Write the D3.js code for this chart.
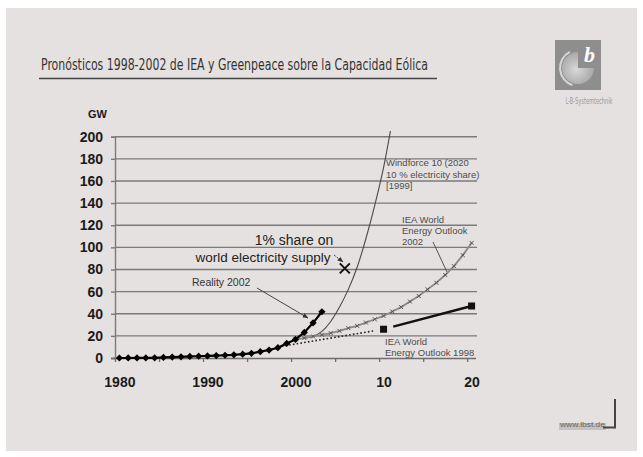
<!DOCTYPE html>
<html>
<head>
<meta charset="utf-8">
<script src="https://cdn.jsdelivr.net/npm/d3@7"></script>
<style>
body { margin: 0; background: #fff; }
svg { display: block; }
</style>
</head>
<body>
<svg id="svg1" width="643" height="457"></svg>
<script>
var titre = "Pronósticos 1998-2002 de IEA y Greenpeace sobre la Capacidad Eólica";

var yTicks = [0, 20, 40, 60, 80, 100, 120, 140, 160, 180, 200];
var xLabelYears = [1980, 1990, 2000, 2010, 2020];
var xLabels = ["1980", "1990", "2000", "10", "20"];
var xTickYears = [1980, 1985, 1990, 1995, 2000, 2005, 2010, 2015, 2020];

// capacité réelle (GW)
var realityYears = [1980, 1981, 1982, 1983, 1984, 1985, 1986, 1987, 1988, 1989, 1990, 1991,
                    1992, 1993, 1994, 1995, 1996, 1997, 1998, 1999, 2000, 2001, 2002, 2003];
var realityGW = [0.01, 0.02, 0.05, 0.1, 0.2, 0.5, 0.8, 1.1, 1.4, 1.6, 1.9, 2.2,
                 2.5, 2.9, 3.5, 4.2, 5.7, 7.2, 9.3, 13.2, 16.8, 23.1, 31.8, 41.8];

// Windforce 10 [1999]
var windforceYears = [1999, 2000, 2001, 2002, 2003, 2004, 2005, 2006, 2007, 2008, 2009, 2010, 2011];
var windforceGW = [13, 16.5, 18, 19.5, 24, 33, 46, 62, 82, 108, 138, 172, 215];

// IEA World Energy Outlook 2002
var weo2002Years = [2000, 2001, 2002, 2003, 2004, 2005, 2006, 2007, 2008, 2009, 2010,
                    2011, 2012, 2013, 2014, 2015, 2016, 2017, 2018, 2019, 2020];
var weo2002GW = [17, 18, 19.5, 21, 22.5, 24.5, 27, 29, 32, 35, 38,
                 42, 46, 51, 56, 62, 68, 75, 83, 93, 104];

// IEA World Energy Outlook 1998
var weo1998Years = [1998, 2010, 2020];
var weo1998GW = [10, 26, 47];

// 1% de l'électricité mondiale
var shareYear = 2005.6;
var shareGW = 81;

var svg = d3.select("#svg1");

// fond
svg.append("rect").attr("width", 643).attr("height", 457).style("fill", "#ffffff");
svg.append("rect").attr("x", 6).attr("y", 8).attr("width", 631).attr("height", 443)
    .style("fill", "#e5e1e0");

// titre
svg.append("text").attr("x", 41).attr("y", 70)
    .attr("textLength", 387).attr("lengthAdjust", "spacingAndGlyphs")
    .style("font-family", "DejaVu Sans Condensed, Liberation Sans, sans-serif")
    .style("font-size", "16.5px").style("fill", "#333")
    .text(titre);
svg.append("line").attr("x1", 39).attr("x2", 437).attr("y1", 78.5).attr("y2", 78.5)
    .style("stroke", "#444").style("stroke-width", 1.5);

// logo
var logo = svg.append("g");
var defs = svg.append("defs");
var grad = defs.append("radialGradient").attr("id", "globe").attr("cx", "45%").attr("cy", "55%").attr("r", "60%");
grad.append("stop").attr("offset", "0%").style("stop-color", "#d9d9d9");
grad.append("stop").attr("offset", "100%").style("stop-color", "#a2a2a2");
logo.append("rect").attr("x", 555).attr("y", 40).attr("width", 46).attr("height", 50)
    .style("fill", "#8e8e8e");
logo.append("path")
    .attr("transform", "translate(578,68)")
    .attr("d", d3.arc()({innerRadius: 0, outerRadius: 16, startAngle: Math.PI * 0.5, endAngle: Math.PI * 2}))
    .style("fill", "url(#globe)");
logo.append("path")
    .attr("transform", "translate(578,68)")
    .attr("d", d3.arc()({innerRadius: 17, outerRadius: 19, startAngle: -Math.PI * 0.9, endAngle: -Math.PI * 0.15}))
    .style("fill", "#d8d8d8");
logo.append("text").attr("x", 584).attr("y", 62)
    .style("font-family", "Liberation Serif, serif").style("font-style", "italic").style("font-weight", "bold")
    .style("font-size", "22px").style("fill", "#fff").text("b");
svg.append("text").attr("x", 589).attr("y", 104).attr("text-anchor", "middle")
    .attr("textLength", 47).attr("lengthAdjust", "spacingAndGlyphs")
    .style("font-family", "DejaVu Sans Condensed, sans-serif").style("font-size", "8px").style("fill", "#999")
    .text("L-B-Systemtechnik");

// pied de page
svg.append("rect").attr("x", 559).attr("y", 423).attr("width", 47).attr("height", 7).style("fill", "#c4c2c1");
svg.append("text").attr("x", 560).attr("y", 427)
    .attr("textLength", 45).attr("lengthAdjust", "spacingAndGlyphs")
    .style("font-family", "Liberation Sans, sans-serif").style("font-size", "8px").style("fill", "#666")
    .text("www.lbst.de");
svg.append("path").attr("d", "M615,399 V427.5 H603")
    .style("fill", "none").style("stroke", "#444").style("stroke-width", 2);

// échelles
var x = d3.scaleLinear().domain([1979.5, 2020.5]).range([115, 476]);
var y = d3.scaleLinear().domain([0, 200]).range([358, 136.7]);

// grille
svg.append("g").selectAll("line")
    .data(yTicks.filter(function(d){ return d > 0; }))
    .enter().append("line")
    .attr("x1", 115).attr("x2", 477)
    .attr("y1", function(d){ return y(d); }).attr("y2", function(d){ return y(d); })
    .style("stroke", "#7a7a7a").style("stroke-width", 1.4);

// axe Y
var axeY = svg.append("g").attr("transform", "translate(115,0)")
    .call(d3.axisLeft(y).tickValues(yTicks).tickSize(4).tickPadding(8));
axeY.select(".domain").style("stroke", "#7a7a7a").style("stroke-width", 1.4);
axeY.selectAll(".tick line").style("stroke", "#7a7a7a").style("stroke-width", 1.4);
axeY.selectAll("text").style("font-family", "Liberation Sans, Arial, sans-serif")
    .style("font-size", "14px").style("font-weight", "bold").style("fill", "#1a1a1a");

svg.append("text").attr("x", 88).attr("y", 118)
    .style("font-family", "Liberation Sans, Arial, sans-serif").style("font-size", "11px")
    .style("font-weight", "bold").style("fill", "#1a1a1a").text("GW");

// axe X
var axeX = svg.append("g").attr("transform", "translate(0,358)")
    .call(d3.axisBottom(x).tickValues(xTickYears.map(function(d){ return d - 0.5; }))
        .tickSize(4).tickSizeOuter(0).tickFormat(""));
axeX.select(".domain").attr("d", "M111,0.5H476").style("stroke", "#6d6d6d").style("stroke-width", 1.5);
axeX.selectAll(".tick line").style("stroke", "#6d6d6d").style("stroke-width", 1.3);

var axeXLabels = svg.append("g").attr("transform", "translate(0,358)")
    .call(d3.axisBottom(x).tickValues(xLabelYears).tickSize(0).tickPadding(19)
        .tickFormat(function(d, i){ return xLabels[i]; }));
axeXLabels.select(".domain").remove();
axeXLabels.selectAll("text").style("font-family", "Liberation Sans, Arial, sans-serif")
    .style("font-size", "14px").style("font-weight", "bold").style("fill", "#1a1a1a");

// Windforce 10
svg.append("clipPath").attr("id", "clip").append("rect")
    .attr("x", 110).attr("y", 131).attr("width", 370).attr("height", 230);
var ligne = d3.line().curve(d3.curveMonotoneX)
    .x(function(d){ return x(d[0]); }).y(function(d){ return y(d[1]); });
svg.append("path")
    .datum(windforceYears.map(function(d, i){ return [d, windforceGW[i]]; }))
    .attr("clip-path", "url(#clip)")
    .attr("d", ligne)
    .style("fill", "none").style("stroke", "#4a4a4a").style("stroke-width", 1.1);

// WEO 2002
var weo2002 = weo2002Years.map(function(d, i){ return [d, weo2002GW[i]]; });
svg.append("path").datum(weo2002)
    .attr("d", d3.line().x(function(d){ return x(d[0]); }).y(function(d){ return y(d[1]); }))
    .style("fill", "none").style("stroke", "#8a8a8a").style("stroke-width", 1.8);
svg.append("g").selectAll("path").data(weo2002).enter().append("path")
    .attr("transform", function(d){ return "translate(" + x(d[0]) + "," + y(d[1]) + ")"; })
    .attr("d", "M-2,-2L2,2M-2,2L2,-2")
    .style("stroke", "#555").style("stroke-width", 1);

// WEO 1998
var p0 = [x(weo1998Years[0]), y(weo1998GW[0])];
var p1 = [x(weo1998Years[1]), y(weo1998GW[1])];
var p2 = [x(weo1998Years[2]), y(weo1998GW[2])];
var d01 = Math.hypot(p1[0] - p0[0], p1[1] - p0[1]);
svg.append("line").attr("x1", p0[0]).attr("y1", p0[1]).attr("x2", p1[0]).attr("y2", p1[1])
    .style("stroke", "#222").style("stroke-width", 1.6)
    .style("stroke-dasharray", d3.range(Math.floor((d01 - 6) / 3.8)).map(function(){ return "1.6 2.2"; }).join(" ") + " 0 100");
svg.append("line").attr("x1", p1[0]).attr("y1", p1[1]).attr("x2", p2[0]).attr("y2", p2[1])
    .style("stroke", "#111").style("stroke-width", 2.4)
    .style("stroke-dasharray", "0 10 1000");
svg.append("g").selectAll("rect").data(weo1998Years.slice(1)).enter().append("rect")
    .attr("x", function(d){ return x(d) - 3.5; })
    .attr("y", function(d, i){ return y(weo1998GW[i + 1]) - 3.5; })
    .attr("width", 7).attr("height", 7).style("fill", "#111");

// réalité
var reality = realityYears.map(function(d, i){ return [d, realityGW[i]]; });
svg.append("path").datum(reality)
    .attr("d", d3.line().x(function(d){ return x(d[0]); }).y(function(d){ return y(d[1]); }))
    .style("fill", "none").style("stroke", "#000").style("stroke-width", 2.2);
svg.append("g").selectAll("path").data(reality).enter().append("path")
    .attr("transform", function(d){ return "translate(" + x(d[0]) + "," + y(d[1]) + ") rotate(45)"; })
    .attr("d", d3.symbol().type(d3.symbolSquare).size(26))
    .style("fill", "#000");

// marque 1 %
svg.append("path")
    .attr("transform", "translate(" + x(shareYear) + "," + y(shareGW) + ")")
    .attr("d", "M-5,-5L5,5M-5,5L5,-5")
    .style("stroke", "#111").style("stroke-width", 2);

// annotations
defs.append("marker").attr("id", "fleche").attr("viewBox", "0 0 10 10")
    .attr("refX", 9).attr("refY", 5).attr("markerWidth", 6).attr("markerHeight", 6)
    .attr("orient", "auto")
    .append("path").attr("d", "M0,1L10,5L0,9Z").style("fill", "#333");

var police = "Liberation Sans, Arial, sans-serif";
svg.append("text").attr("x", 294).attr("y", 245).attr("text-anchor", "middle")
    .style("font-family", police).style("font-size", "14px").style("fill", "#222").text("1% share on");
svg.append("text").attr("x", 263).attr("y", 262).attr("text-anchor", "middle")
    .style("font-family", police).style("font-size", "13.5px").style("fill", "#222").text("world electricity supply");
svg.append("line").attr("x1", 334).attr("y1", 255).attr("x2", 343).attr("y2", 262)
    .attr("marker-end", "url(#fleche)")
    .style("stroke", "#333").style("stroke-width", 1).style("stroke-dasharray", "2 1.5");

svg.append("text").attr("x", 192).attr("y", 286)
    .style("font-family", police).style("font-size", "10.5px").style("fill", "#333").text("Reality 2002");
svg.append("line").attr("x1", 257).attr("y1", 288).attr("x2", 308).attr("y2", 318)
    .attr("marker-end", "url(#fleche)")
    .style("stroke", "#444").style("stroke-width", 1);

var texteGris = function(lignes, x0, y0, pas) {
    svg.append("g").selectAll("text").data(lignes).enter().append("text")
        .attr("x", x0).attr("y", function(d, i){ return y0 + i * pas; })
        .style("font-family", police).style("font-size", "9.5px").style("fill", "#4d4d4d")
        .text(function(d){ return d; });
};
texteGris(["Windforce 10 (2020", "10 % electricity share)", "[1999]"], 386, 166, 11.5);
texteGris(["IEA World", "Energy Outlook", "2002"], 402, 223, 11.2);
texteGris(["IEA World", "Energy Outlook 1998"], 385, 345, 11);

svg.append("line").attr("x1", 433).attr("y1", 242).attr("x2", 447).attr("y2", 272)
    .style("stroke", "#555").style("stroke-width", 1);
</script>
</body>
</html>
